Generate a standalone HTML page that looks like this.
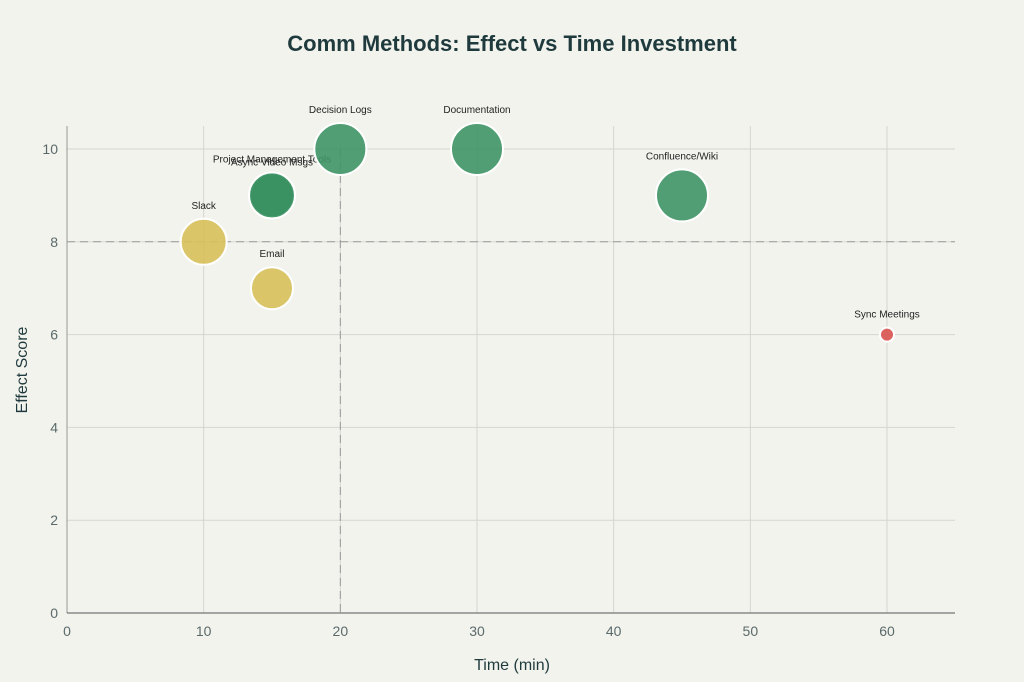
<!DOCTYPE html>
<html><head><meta charset="utf-8"><style>
html,body{margin:0;background:#f3f3ee;font-family:"Liberation Sans",sans-serif;overflow:hidden;width:1024px;height:682px}
svg{display:block}
</style></head><body>
<svg id="c" width="1024" height="682" xmlns="http://www.w3.org/2000/svg">
<rect width="1024" height="682" fill="#f3f3ee"/>
<text x="512" y="51" text-anchor="middle" font-size="22" font-weight="bold" fill="#1f3a3d">Comm Methods: Effect vs Time Investment</text>
<g id="grid"></g><g id="axes"></g><g id="marks"></g>
<text x="512" y="670" text-anchor="middle" font-size="16" fill="#1f3a3d">Time (min)</text>
<text transform="translate(27,370) rotate(-90)" text-anchor="middle" font-size="16" fill="#1f3a3d">Effect Score</text>
</svg>
<script>
const names=["Slack","Email","Project Management Tools","Async Video Msgs","Decision Logs","Documentation","Confluence/Wiki","Sync Meetings"];
const times=[10,15,15,15,20,30,45,60];
const effects=[8,7,9,9,10,10,9,6];
const sizes=[23,21,22,23,26,26,26,7];
const colors=["#d8c05a","#d8c05a","#2e8b57","#3a9060","#3f9566","#3f9566","#3f9566","#d9534f"];
const xTicks=[0,10,20,30,40,50,60];
const yTicks=[0,2,4,6,8,10];
const refX=20, refY=8;
const X=v=>67+v*(820/60), Y=v=>613-v*46.4;
const ns="http://www.w3.org/2000/svg";
function mk(t,a,p){const e=document.createElementNS(ns,t);for(const k in a)e.setAttribute(k,a[k]);document.getElementById(p).appendChild(e);return e;}
xTicks.forEach(t=>{
 const l=mk('line',{x1:X(t),x2:X(t),y1:126,y2:613,stroke:'#d6d6d0'},'grid');
 
 
 const tx=mk('text',{x:X(t),y:636,'text-anchor':'middle','font-size':14,fill:'#5a6a6a'},'axes');tx.textContent=t;
 
 
});
yTicks.forEach(t=>{
 const l=mk('line',{x1:67,x2:955,y1:Y(t),y2:Y(t),stroke:'#d6d6d0'},'grid');
 
 
 const tx=mk('text',{x:58,y:Y(t)+5,'text-anchor':'end','font-size':14,fill:'#5a6a6a'},'axes');tx.textContent=t;
 
 
});
let a=mk('line',{x1:67,x2:67,y1:126,y2:613,stroke:'#9a9a94'},'axes');


a=mk('line',{x1:67,x2:955,y1:613,y2:613,stroke:'#555'},'axes');


a=mk('line',{x1:X(refX),x2:X(refX),y1:Y(10),y2:613,stroke:'#999','stroke-dasharray':'8,5'},'axes');


a=mk('line',{x1:67,x2:955,y1:Y(refY),y2:Y(refY),stroke:'#999','stroke-dasharray':'8,5'},'axes');


names.forEach((n,i)=>{
 const cx=X(times[i]),cy=Y(effects[i]);
 const c=mk('circle',{cx:cx,cy:cy,r:sizes[i],fill:colors[i],'fill-opacity':0.9,stroke:'#fff','stroke-width':2},'marks');
 
 
 const off=n==="Async Video Msgs"?7:(n==="Project Management Tools"?11:10);
 const t=mk('text',{x:cx,y:cy-sizes[i]-off,'text-anchor':'middle','font-size':10,fill:'#222'},'marks');t.textContent=n;
 
 
});
</script>
</body></html>
